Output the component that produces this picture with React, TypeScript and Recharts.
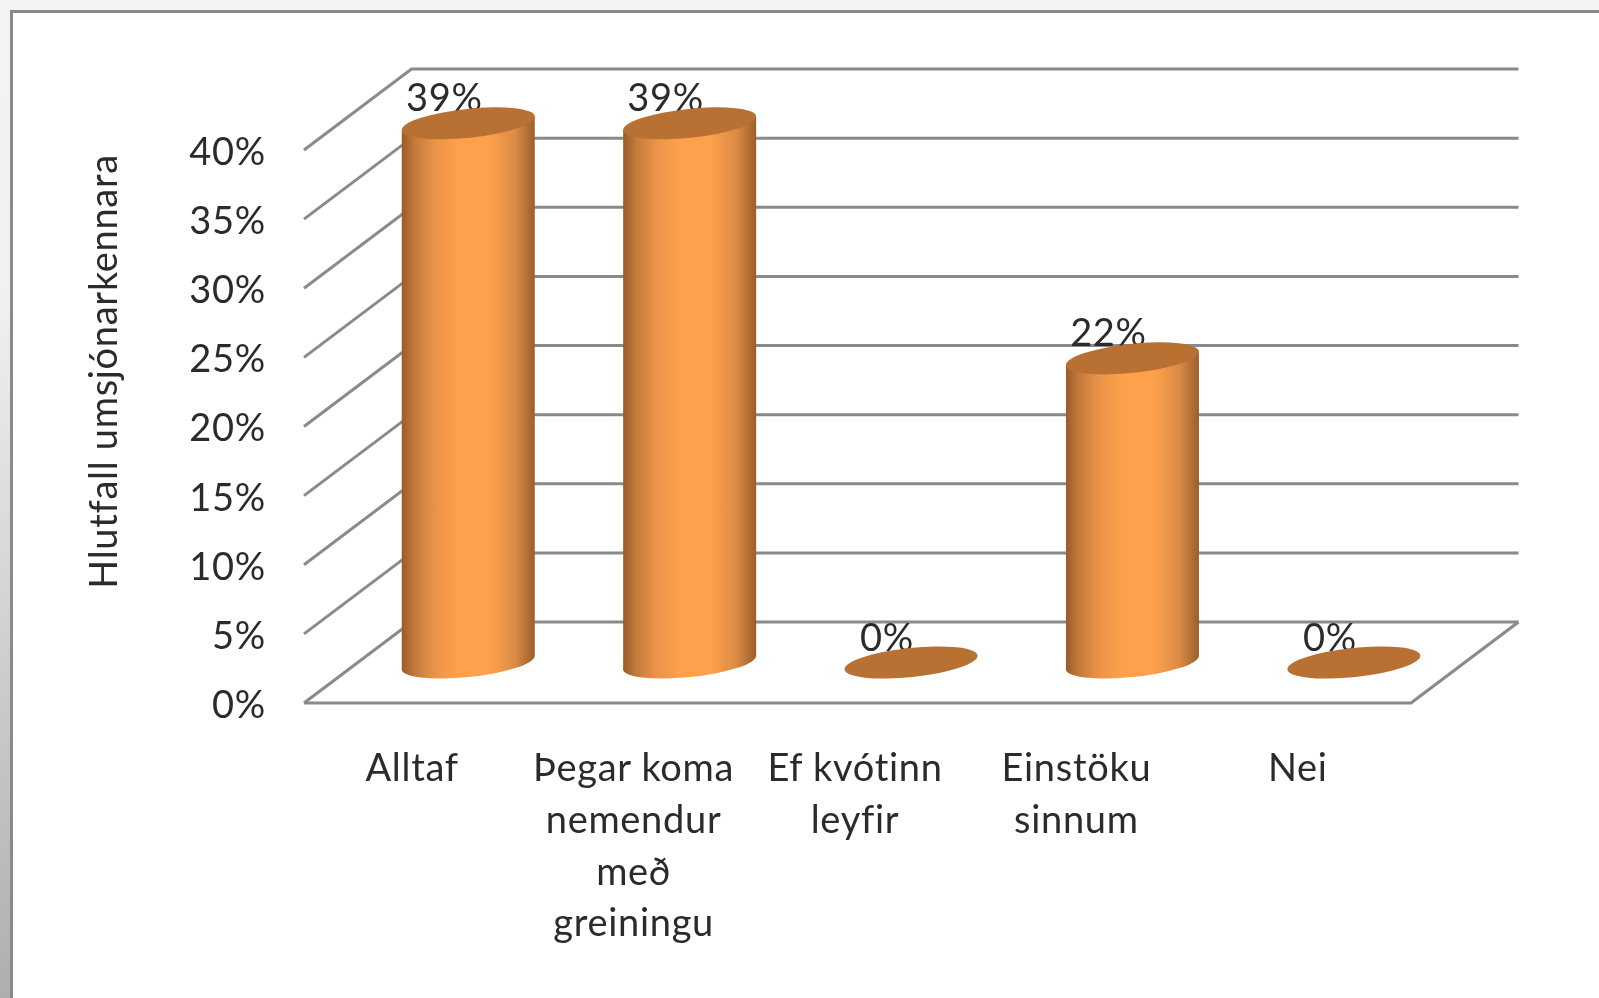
import React from "react";
import { BarChart, Bar, XAxis, YAxis, CartesianGrid } from "recharts";

const categories = [
  "Alltaf",
  "Þegar koma\nnemendur\nmeð\ngreiningu",
  "Ef kvótinn\nleyfir",
  "Einstöku\nsinnum",
  "Nei",
];
const shares = [0.39, 0.39, 0, 0.22, 0];
const yTicks = [0, 0.05, 0.1, 0.15, 0.2, 0.25, 0.3, 0.35, 0.4];
const yTitle = "Hlutfall umsjónarkennara";

const data = categories.map((name, i) => ({ name, share: shares[i] }));

const FONT = "Lato, 'Open Sans', sans-serif";
const FONT_SIZE = 38;
const TEXT = "#2b2b2b";
const GRID = "#8a8a8a";
const DEPTH_X = 107.5;
const DEPTH_Y = 81;
const TILT = (-6 * Math.PI) / 180;
const RY = 14.5;

const pct = (v: number) => `${Math.round(v * 100)}%`;

function gridLine(props: any) {
  const { x1, x2, y1 } = props;
  const isFloor = Math.abs(y1 - 703) < 1;
  const bx = x1 + DEPTH_X;
  const by = y1 - DEPTH_Y;
  const d = `M${x1},${y1} L${bx},${by} L${x2 + DEPTH_X},${by}`;
  return (
    <g key={`g-${y1}`}>
      <path d={d} fill="none" stroke={GRID} strokeWidth={3} />
      {isFloor && (
        <path
          d={`M${x1},${y1} L${x2},${y1} L${x2 + DEPTH_X},${by}`}
          fill="none"
          stroke={GRID}
          strokeWidth={3.2}
        />
      )}
    </g>
  );
}

function Cylinder(props: any) {
  const { x, y, width, height, value, index } = props;
  const cx = x + width / 2 + DEPTH_X / 2;
  const top = y - DEPTH_Y / 2;
  const base = y + height - DEPTH_Y / 2;
  const rx = width / 2 / Math.sqrt(Math.cos(TILT) ** 2 + (RY * RY * Math.sin(TILT) ** 2) / (width * width / 4));
  const deg = (TILT * 180) / Math.PI;
  const t = Math.atan2(-RY * Math.sin(TILT), rx * Math.cos(TILT));
  const hx = rx * Math.cos(t) * Math.cos(TILT) - RY * Math.sin(t) * Math.sin(TILT);
  const hy = rx * Math.cos(t) * Math.sin(TILT) + RY * Math.sin(t) * Math.cos(TILT);
  const id = `cyl-${index}`;
  const hasBody = height > 0.5;
  return (
    <g>
      <text
        x={cx - 24}
        y={top - 27}
        textAnchor="middle"
        dominantBaseline="central"
        fontFamily={FONT}
        fontSize={FONT_SIZE}
        fill={TEXT}
      >
        {pct(value)}
      </text>
      {hasBody && (
        <>
          <defs>
            <linearGradient id={id} x1="0" y1="0" x2="1" y2="0">
              <stop offset="0" stopColor="#9a5c28" />
              <stop offset="0.1" stopColor="#c47a3c" />
              <stop offset="0.25" stopColor="#ea9449" />
              <stop offset="0.42" stopColor="#fea04c" />
              <stop offset="0.66" stopColor="#fea04c" />
              <stop offset="0.85" stopColor="#dc8b45" />
              <stop offset="1" stopColor="#9a5f2b" />
            </linearGradient>
          </defs>
          <path
            d={`M${cx - hx},${top - hy} L${cx - hx},${base - hy} A${rx},${RY} ${deg} 0 0 ${cx + hx},${base + hy} L${cx + hx},${top + hy} Z`}
            fill={`url(#${id})`}
          />
        </>
      )}
      <ellipse
        cx={cx}
        cy={top}
        rx={rx}
        ry={RY}
        fill="#b87033"
        transform={`rotate(${deg} ${cx} ${top})`}
      />
    </g>
  );
}

function CategoryTick(props: any) {
  const { x, y, payload } = props;
  const lines = String(payload.value).split("\n");
  return (
    <text x={x - 2.5} y={y} textAnchor="middle" fontFamily={FONT} fontSize={FONT_SIZE} fill={TEXT}>
      {lines.map((line, i) => (
        <tspan key={i} x={x - 2.5} y={y + 51.8 * i}>
          {line}
        </tspan>
      ))}
    </text>
  );
}

export default function App() {
  return (
    <div
      style={{
        position: "absolute",
        left: 0,
        top: 0,
        width: 1599,
        height: 998,
        overflow: "hidden",
        background: "linear-gradient(180deg, #f4f4f4 0%, #f0f0f0 30%, #aeaeae 100%)",
      }}
    >
      <div
        style={{
          position: "absolute",
          left: 10,
          top: 10,
          width: 1589,
          height: 988,
          boxSizing: "border-box",
          borderLeft: "3px solid #8a8a8a",
          borderTop: "3px solid #8a8a8a",
          background: "#ffffff",
          filter: "blur(0.7px)",
        }}
      />
      <div
        style={{
          position: "absolute",
          left: 0,
          top: 0,
          filter: "blur(0.7px)",
          letterSpacing: 0.7,
          fontVariantLigatures: "none",
        }}
      >
        <BarChart
          width={1599}
          height={998}
          data={data}
          margin={{ top: 150, right: 188, bottom: 95, left: 184 }}
          barSize={133}
        >
          <CartesianGrid vertical={false} horizontal={gridLine as any} />
          <XAxis
            dataKey="name"
            interval={0}
            height={200}
            axisLine={false}
            tickLine={false}
            tick={<CategoryTick />}
            tickMargin={72}
          />
          <YAxis
            width={120}
            domain={[0, 0.4]}
            ticks={yTicks}
            tickFormatter={pct}
            axisLine={false}
            tickLine={false}
            tickSize={0}
            tickMargin={38}
            tick={{ fill: TEXT, fontSize: FONT_SIZE, fontFamily: FONT, dy: 1.5 }}
            label={{
              value: yTitle,
              angle: -90,
              position: "center",
              dx: -140,
              dy: -55,
              fill: TEXT,
              fontSize: FONT_SIZE,
              fontFamily: FONT,
            }}
          />
          <Bar dataKey="share" isAnimationActive={false} shape={Cylinder as any} />
        </BarChart>
      </div>
    </div>
  );
}
